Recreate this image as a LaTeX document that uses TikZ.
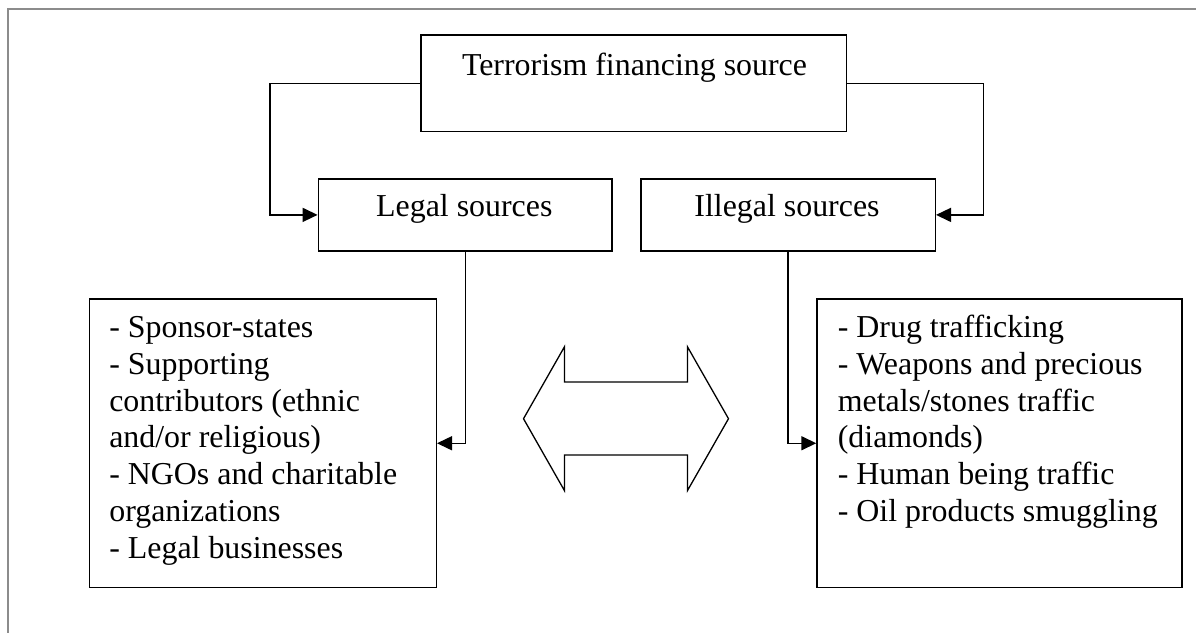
\documentclass[tikz,border=0pt]{standalone}
\usepackage{fontspec}
\setmainfont{Liberation Serif}
\usetikzlibrary{arrows.meta}
\begin{document}
\begin{tikzpicture}[x=1pt,y=-1pt,
  box/.style={draw, line width=1.5pt, inner sep=0pt, anchor=north west},
  conn/.style={line width=1.5pt, -{Triangle[length=15pt,width=14pt]}},
  lbl/.style={inner sep=0pt, font=\fontsize{31.9}{36.83}\selectfont},
  bigarrow/.style={draw, line width=1.3pt, line join=miter}
]
\useasboundingbox (0,0) rectangle (1196,632);
\fill[white] (0,0) rectangle (1196,632);
\draw[black!45, line width=2pt] (7.7,700) -- (7.7,9) -- (1250,9);

% boxes
\node[box, minimum width=425.4pt, minimum height=96.4pt] (top) at (420.2,34.3) {};
\node[box, minimum width=293.8pt, minimum height=71.7pt] (legal) at (317.6,178.3) {};
\node[box, minimum width=294.2pt, minimum height=71.7pt] (illegal) at (640.3,178.3) {};
\node[box, minimum width=347pt, minimum height=288.4pt] (lbox) at (88.5,298.3) {};
\node[box, minimum width=365pt, minimum height=288.4pt] (rbox) at (816.3,298.3) {};

% texts
\node[lbl, anchor=base] (toptext) at (634.5,75) {Terrorism financing source};
\node[lbl, anchor=base] (legaltext) at (464.3,216.7) {Legal sources};
\node[lbl, anchor=base] (illegaltext) at (787,216.7) {Illegal sources};
\node[lbl, anchor=north west, align=left] (ltext) at (109.1,312.3)
  {\rule{0pt}{25pt}- Sponsor-states\\- Supporting\\contributors (ethnic\\and/or religious)\\- NGOs and charitable\\organizations\\- Legal businesses};
\node[lbl, anchor=north west, align=left] (rtext) at (837.6,312.3)
  {\rule{0pt}{25pt}- Drug trafficking\\- Weapons and precious\\metals/stones traffic\\(diamonds)\\- Human being traffic\\- Oil products smuggling};

% connectors
\draw[conn] (top.west) -- ++(-150.4,0) |- (legal.west);
\draw[conn] (top.east) -- ++(136.4,0) |- (illegal.east);
\draw[conn] (legal.south) |- (lbox.east);
\draw[conn] (illegal.south) |- (rbox.west);

% double arrow
\draw[bigarrow] (523.5,418.7) -- (564.5,346.7) -- (564.5,382) -- (687.4,382)
  -- (687.4,346.7) -- (728.5,418.7) -- (687.4,490.7) -- (687.4,455)
  -- (564.5,455) -- (564.5,490.7) -- cycle;
\end{tikzpicture}
\end{document}
